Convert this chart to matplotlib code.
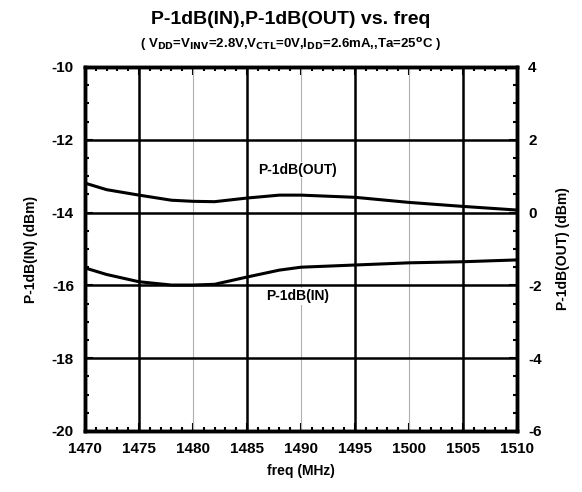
import matplotlib.pyplot as plt
from matplotlib.ticker import MultipleLocator

freq = [1470, 1472, 1475, 1478, 1480, 1482, 1485, 1488, 1490, 1495, 1500, 1505, 1510]
p1db_in = [-15.52, -15.7, -15.9, -15.99, -15.99, -15.97, -15.77, -15.58, -15.5, -15.44, -15.38, -15.35, -15.3]
p1db_out = [0.81, 0.63, 0.48, 0.34, 0.31, 0.30, 0.40, 0.48, 0.48, 0.42, 0.28, 0.17, 0.07]

plt.rcParams['font.family'] = ['Liberation Sans', 'DejaVu Sans']
plt.rcParams['font.weight'] = 'bold'
plt.rcParams['axes.unicode_minus'] = False

fig = plt.figure(figsize=(5.82, 4.92), dpi=100)
ax = fig.add_axes([85 / 582, 61 / 492, 432 / 582, 364 / 492])
ax2 = ax.twinx()

for x in [1480, 1490, 1500]:
    ax.axvline(x, color='#b0b0b0', lw=0.8)
for x in [1475, 1485, 1495, 1505]:
    ax.axvline(x, color='black', lw=1.8)
for y in [-18, -16, -14, -12]:
    ax.axhline(y, color='black', lw=1.8)

ax.plot(freq, p1db_in, color='black', lw=2.2)
ax2.plot(freq, p1db_out, color='black', lw=2.2)

ax.set_xlim(1470, 1510)
ax.set_ylim(-20, -10)
ax2.set_ylim(-6, 4)
ax.xaxis.set_major_locator(MultipleLocator(5))
ax.xaxis.set_minor_locator(MultipleLocator(1))
ax.yaxis.set_major_locator(MultipleLocator(2))
ax.yaxis.set_minor_locator(MultipleLocator(0.5))
ax2.yaxis.set_major_locator(MultipleLocator(2))
ax2.yaxis.set_minor_locator(MultipleLocator(0.5))
for a in (ax, ax2):
    a.tick_params(which='both', direction='in', labelsize=11, width=1.5, pad=8)
    a.tick_params(which='major', length=6)
    a.tick_params(which='minor', length=3)
    for s in a.spines.values():
        s.set_linewidth(2.5)
ax.tick_params(axis='x', which='both', top=True)

ax.set_xlabel('freq (MHz)', fontsize=10, fontweight='bold', labelpad=6)
ax.set_ylabel('P-1dB(IN) (dBm)', fontsize=10, fontweight='bold', labelpad=10)
ax2.set_ylabel('P-1dB(OUT) (dBm)', fontsize=10, fontweight='bold', labelpad=10)

ax.text(1489.7, -12.83, 'P-1dB(OUT)', ha='center', va='center', fontsize=10, fontweight='bold',
        bbox=dict(facecolor='white', edgecolor='none', pad=1))
ax.text(1489.7, -16.3, 'P-1dB(IN)', ha='center', va='center', fontsize=10, fontweight='bold',
        bbox=dict(facecolor='white', edgecolor='none', pad=1))

fig.text(0.5, 0.96, 'P-1dB(IN),P-1dB(OUT) vs. freq', ha='center', va='center',
         fontsize=14, fontweight='bold')
fig.text(0.5, 0.91,
         r'( V$_{\mathbf{DD}}$=V$_{\mathbf{INV}}$=2.8V,V$_{\mathbf{CTL}}$=0V,I$_{\mathbf{DD}}$=2.6mA,,Ta=25$^{\mathbf{o}}$C )',
         ha='center', va='center', fontsize=9.5, fontweight='bold')

fig.savefig('out.png', dpi=100)
